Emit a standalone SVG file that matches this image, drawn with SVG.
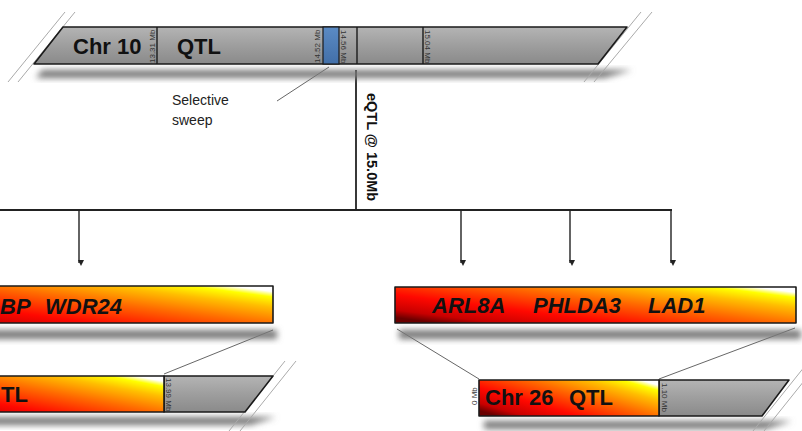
<svg xmlns="http://www.w3.org/2000/svg" width="802" height="431" viewBox="0 0 802 431">
<style>
text{font-family:"Liberation Sans",Arial,sans-serif;}
.big{font-size:22px;font-weight:bold;fill:#111;}
.gene{font-size:22px;font-weight:bold;font-style:italic;fill:#111;}
.mb{font-size:8px;fill:#333;}
.lbl{font-size:14px;fill:#222;}
.eq{font-size:14.5px;font-weight:bold;fill:#111;}
.bar{stroke:#1a1a1a;stroke-width:1.6;stroke-linejoin:round;}
.gray{fill:url(#grayG);}
.heat{fill:url(#heatG);}
.div{stroke:#1a1a1a;stroke-width:1.4;}
.brk{stroke:#aaa;stroke-width:1;fill:none;}
.zoom{stroke:#555;stroke-width:0.9;fill:none;}
.sh{fill:#777;filter:url(#blur);}
.conn{stroke:#222;stroke-width:1.8;fill:none;}
.arr{stroke:#222;stroke-width:1.4;fill:none;marker-end:url(#ah);}
</style>
<defs>
<linearGradient id="grayG" x1="0" y1="0" x2="0" y2="1">
<stop offset="0" stop-color="#b4b4b4"/>
<stop offset="0.5" stop-color="#9e9e9e"/>
<stop offset="1" stop-color="#8a8a8a"/>
</linearGradient>
<linearGradient id="heatG" x1="0" y1="0.85" x2="1" y2="0.15">
<stop offset="0" stop-color="#6a0000"/>
<stop offset="0.1" stop-color="#c80000"/>
<stop offset="0.3" stop-color="#ff0800"/>
<stop offset="0.58" stop-color="#ff6a00"/>
<stop offset="0.8" stop-color="#ffbe00"/>
<stop offset="0.93" stop-color="#ffff00"/>
<stop offset="1" stop-color="#ffffff"/>
</linearGradient>
<linearGradient id="blueG" x1="0" y1="0" x2="0" y2="1">
<stop offset="0" stop-color="#5b8bc4"/>
<stop offset="1" stop-color="#426fa8"/>
</linearGradient>
<filter id="blur" x="-10%" y="-60%" width="120%" height="220%">
<feGaussianBlur stdDeviation="3"/>
</filter>
<marker id="ah" viewBox="0 0 6 6" refX="3" refY="5" markerWidth="6" markerHeight="6" markerUnits="userSpaceOnUse" orient="auto-start-reverse">
<path d="M0,0 L6,0 L3,6 Z" fill="#222" transform="rotate(-90 3 3)"/>
</marker>
</defs>

<g id="connectors">
<line class="zoom" x1="329" y1="67" x2="277" y2="101"/>
<line class="conn" x1="356" y1="70" x2="356" y2="210"/>
<line class="conn" x1="0" y1="210" x2="672" y2="210"/>
<line class="arr" x1="79" y1="210" x2="79" y2="263"/>
<line class="arr" x1="461" y1="210" x2="461" y2="263"/>
<line class="arr" x1="570" y1="210" x2="570" y2="263"/>
<line class="arr" x1="671" y1="210" x2="671" y2="263"/>
<line class="zoom" x1="273" y1="330" x2="164" y2="374"/>
<line class="zoom" x1="397" y1="329" x2="479" y2="379"/>
<line class="zoom" x1="795" y1="328" x2="659" y2="379"/>
</g>

<g id="chr10">
<polygon class="sh" points="42,70 632,70 604,78 36,78"/>
<line class="brk" x1="8" y1="82" x2="65" y2="12"/>
<line class="brk" x1="18" y1="82" x2="75" y2="12"/>
<line class="brk" x1="584" y1="82" x2="641" y2="12"/>
<line class="brk" x1="594" y1="82" x2="652" y2="12"/>
<polygon class="bar gray" points="63,27 627,27 598,64 34,64"/>
<rect x="323" y="27" width="16" height="37" fill="url(#blueG)" stroke="#1a1a1a" stroke-width="1.2"/>
<line class="div" x1="157" y1="27" x2="157" y2="64"/>
<line class="div" x1="357" y1="27" x2="357" y2="64"/>
<line class="div" x1="423" y1="27" x2="423" y2="64"/>
<text class="big" x="73" y="54">Chr 10</text>
<text class="big" x="177" y="54">QTL</text>
<text class="mb" transform="translate(155,63) rotate(-90)">13.31 Mb</text>
<text class="mb" transform="translate(320,63) rotate(-90)">14.52 Mb</text>
<text class="mb" transform="translate(341,30) rotate(90)">14.56 Mb</text>
<text class="mb" transform="translate(425,30) rotate(90)">15.04 Mb</text>
</g>

<g id="sweep-label">
<text class="lbl" x="172" y="105">Selective</text>
<text class="lbl" x="172" y="125">sweep</text>
</g>

<g id="eqtl-label">
<text class="eq" transform="translate(367,93) rotate(90)">eQTL @ 15.0Mb</text>
</g>

<g id="genes-left">
<rect class="sh" x="-128" y="330" width="405" height="9"/>
<rect class="bar heat" x="-128" y="286" width="401" height="37"/>
<text class="gene" x="0" y="314">BP</text>
<text class="gene" x="45" y="314">WDR24</text>
</g>

<g id="chr-left">
<polygon class="sh" points="-110,417 276,417 250,425 -110,425"/>
<line class="brk" x1="229" y1="431" x2="285" y2="361"/>
<line class="brk" x1="240" y1="431" x2="296" y2="361"/>
<polygon class="bar gray" points="164,376 273,376 245,412 164,412"/>
<rect class="bar heat" x="-110" y="376" width="274" height="36"/>
<text class="big" x="1" y="402">TL</text>
<text class="mb" transform="translate(166,378) rotate(90)">13.99 Mb</text>
</g>

<g id="genes-right">
<rect class="sh" x="399" y="330" width="402" height="9"/>
<rect class="bar heat" x="395" y="287" width="401" height="36"/>
<text class="gene" x="432" y="313">ARL8A</text>
<text class="gene" x="533" y="313">PHLDA3</text>
<text class="gene" x="648" y="313">LAD1</text>
</g>

<g id="chr26">
<polygon class="sh" points="484,421 792,421 766,429 484,429"/>
<line class="brk" x1="753" y1="431" x2="809" y2="361"/>
<line class="brk" x1="764" y1="431" x2="820" y2="361"/>
<polygon class="bar gray" points="659,380 789,380 762,416 659,416"/>
<rect class="bar heat" x="479" y="380" width="180" height="36"/>
<text class="big" x="485" y="405">Chr 26</text>
<text class="big" x="569" y="405">QTL</text>
<text class="mb" transform="translate(477,405) rotate(-90)">0 Mb</text>
<text class="mb" transform="translate(662,383) rotate(90)">1.10 Mb</text>
</g>
</svg>
